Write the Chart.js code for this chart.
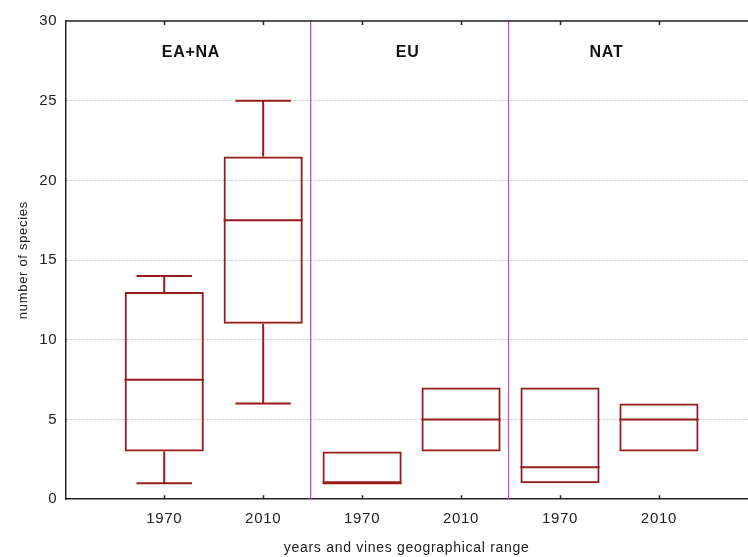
<!DOCTYPE html>
<html>
<head>
<meta charset="utf-8">
<script src="https://cdn.jsdelivr.net/npm/chart.js@4/dist/chart.umd.min.js"></script>
<style>
  html, body { margin: 0; padding: 0; background: #fff; }
  #wrap { width: 748px; height: 557px; }
</style>
</head>
<body>
<div id="wrap"><canvas id="chart"></canvas></div>
<script>
  // Box plot data
  const positions = [1, 2, 3, 4, 5, 6];
  const years = ['1970', '2010', '1970', '2010', '1970', '2010'];
  const minVals = [1, 6, 1, 3, 1, 3];
  const q1Vals = [3, 11, 1, 3, 1, 3];
  const medianVals = [7.5, 17.5, 1, 5, 2, 5];
  const q3Vals = [13, 21.5, 3, 7, 7, 6];
  const maxVals = [14, 25, 3, 7, 7, 6];

  const groupLabels = ['EA+NA', 'EU', 'NAT'];
  const groupLabelX = [1.27, 3.46, 5.47];
  const dividers = [2.48, 4.48];
  const yTicks = [0, 5, 10, 15, 20, 25, 30];

  const boxColor = '#981b1b';
  const capHalf = 0.28;

  // Median, whiskers, dividers, group labels, inner tick marks
  const boxExtras = {
    id: 'boxExtras',
    beforeDraw(chart) {
      chart.ctx.letterSpacing = '0.7px';
    },
    afterDatasetsDraw(chart) {
      const { ctx, chartArea, scales: { x, y } } = chart;
      ctx.save();

      // group dividers
      ctx.strokeStyle = '#b455c8';
      ctx.lineWidth = 1.3;
      dividers.forEach((d) => {
        const px = x.getPixelForValue(d);
        ctx.beginPath();
        ctx.moveTo(px, chartArea.top);
        ctx.lineTo(px, chartArea.bottom);
        ctx.stroke();
      });

      // medians and whiskers
      ctx.strokeStyle = boxColor;
      ctx.lineWidth = 2;
      const meta = chart.getDatasetMeta(0);
      positions.forEach((p, i) => {
        const bar = meta.data[i];
        const half = bar.width / 2;
        const cx = x.getPixelForValue(p);
        const ym = y.getPixelForValue(medianVals[i]);
        ctx.beginPath();
        ctx.moveTo(cx - half, ym);
        ctx.lineTo(cx + half, ym);
        ctx.stroke();

        const capL = x.getPixelForValue(p - capHalf);
        const capR = x.getPixelForValue(p + capHalf);
        if (maxVals[i] > q3Vals[i]) {
          const yt = y.getPixelForValue(maxVals[i]);
          ctx.beginPath();
          ctx.moveTo(cx, y.getPixelForValue(q3Vals[i]));
          ctx.lineTo(cx, yt);
          ctx.moveTo(capL, yt);
          ctx.lineTo(capR, yt);
          ctx.stroke();
        }
        if (minVals[i] < q1Vals[i]) {
          const yb = y.getPixelForValue(minVals[i]);
          ctx.beginPath();
          ctx.moveTo(cx, y.getPixelForValue(q1Vals[i]));
          ctx.lineTo(cx, yb);
          ctx.moveTo(capL, yb);
          ctx.lineTo(capR, yb);
          ctx.stroke();
        }
      });

      // top axis line and inner tick marks
      ctx.strokeStyle = '#222';
      ctx.lineWidth = 1.5;
      ctx.beginPath();
      ctx.moveTo(chartArea.left, chartArea.top);
      ctx.lineTo(chartArea.right, chartArea.top);
      positions.forEach((p) => {
        const px = Math.round(x.getPixelForValue(p)) + 0.5;
        ctx.moveTo(px, chartArea.top);
        ctx.lineTo(px, chartArea.top + 4);
        ctx.moveTo(px, chartArea.bottom);
        ctx.lineTo(px, chartArea.bottom - 4);
      });
      ctx.stroke();

      // group labels
      ctx.fillStyle = '#111';
      ctx.font = 'bold 16px "Liberation Sans", Arial, sans-serif';
      ctx.textAlign = 'center';
      ctx.textBaseline = 'middle';
      groupLabels.forEach((t, i) => {
        ctx.fillText(t, x.getPixelForValue(groupLabelX[i]), y.getPixelForValue(28));
      });
      ctx.restore();
    }
  };

  new Chart(document.getElementById('chart'), {
    type: 'bar',
    data: {
      datasets: [{
        data: positions.map((p, i) => ({ x: p, y: [q1Vals[i], q3Vals[i]] })),
        backgroundColor: 'rgba(0,0,0,0)',
        borderColor: boxColor,
        borderWidth: 2,
        borderSkipped: false,
        categoryPercentage: 0.8,
        barPercentage: 1
      }]
    },
    options: {
      responsive: true,
      maintainAspectRatio: false,
      animation: false,
      layout: { padding: { top: 21, left: 16, right: 0, bottom: 0 } },
      plugins: {
        legend: { display: false },
        tooltip: { enabled: false }
      },
      scales: {
        x: {
          type: 'linear',
          offset: false,
          min: 0,
          max: 6.9,
          afterBuildTicks: (s) => { s.ticks = positions.map((v) => ({ value: v })); },
          grid: { display: false, offset: false },
          border: { display: true, color: '#222', width: 1.5 },
          ticks: {
            callback: (v) => years[positions.indexOf(v)] || '',
            color: '#222',
            font: { family: '"Liberation Sans", Arial, sans-serif', size: 15 },
            padding: 3,
            maxRotation: 0,
            autoSkip: false
          },
          title: {
            display: true,
            text: 'years and vines geographical range',
            color: '#222',
            font: { family: '"Liberation Sans", Arial, sans-serif', size: 14 },
            padding: { top: 9, bottom: 0 }
          }
        },
        y: {
          min: 0,
          max: 30,
          afterBuildTicks: (s) => { s.ticks = yTicks.map((v) => ({ value: v })); },
          grid: {
            color: (c) => (c.tick.value === 0 || c.tick.value === 30 ? 'rgba(0,0,0,0)' : '#c4c4c4'),
            lineWidth: 1,
            drawTicks: false
          },
          border: { display: true, color: '#222', width: 1.5, dash: [2, 2] },
          ticks: {
            color: '#222',
            font: { family: '"Liberation Sans", Arial, sans-serif', size: 15 },
            padding: 8
          },
          title: {
            display: true,
            text: 'number of species',
            color: '#222',
            font: { family: '"Liberation Sans", Arial, sans-serif', size: 13 },
            padding: { top: 0, bottom: 1 }
          }
        }
      }
    },
    plugins: [boxExtras]
  });
</script>
</body>
</html>
